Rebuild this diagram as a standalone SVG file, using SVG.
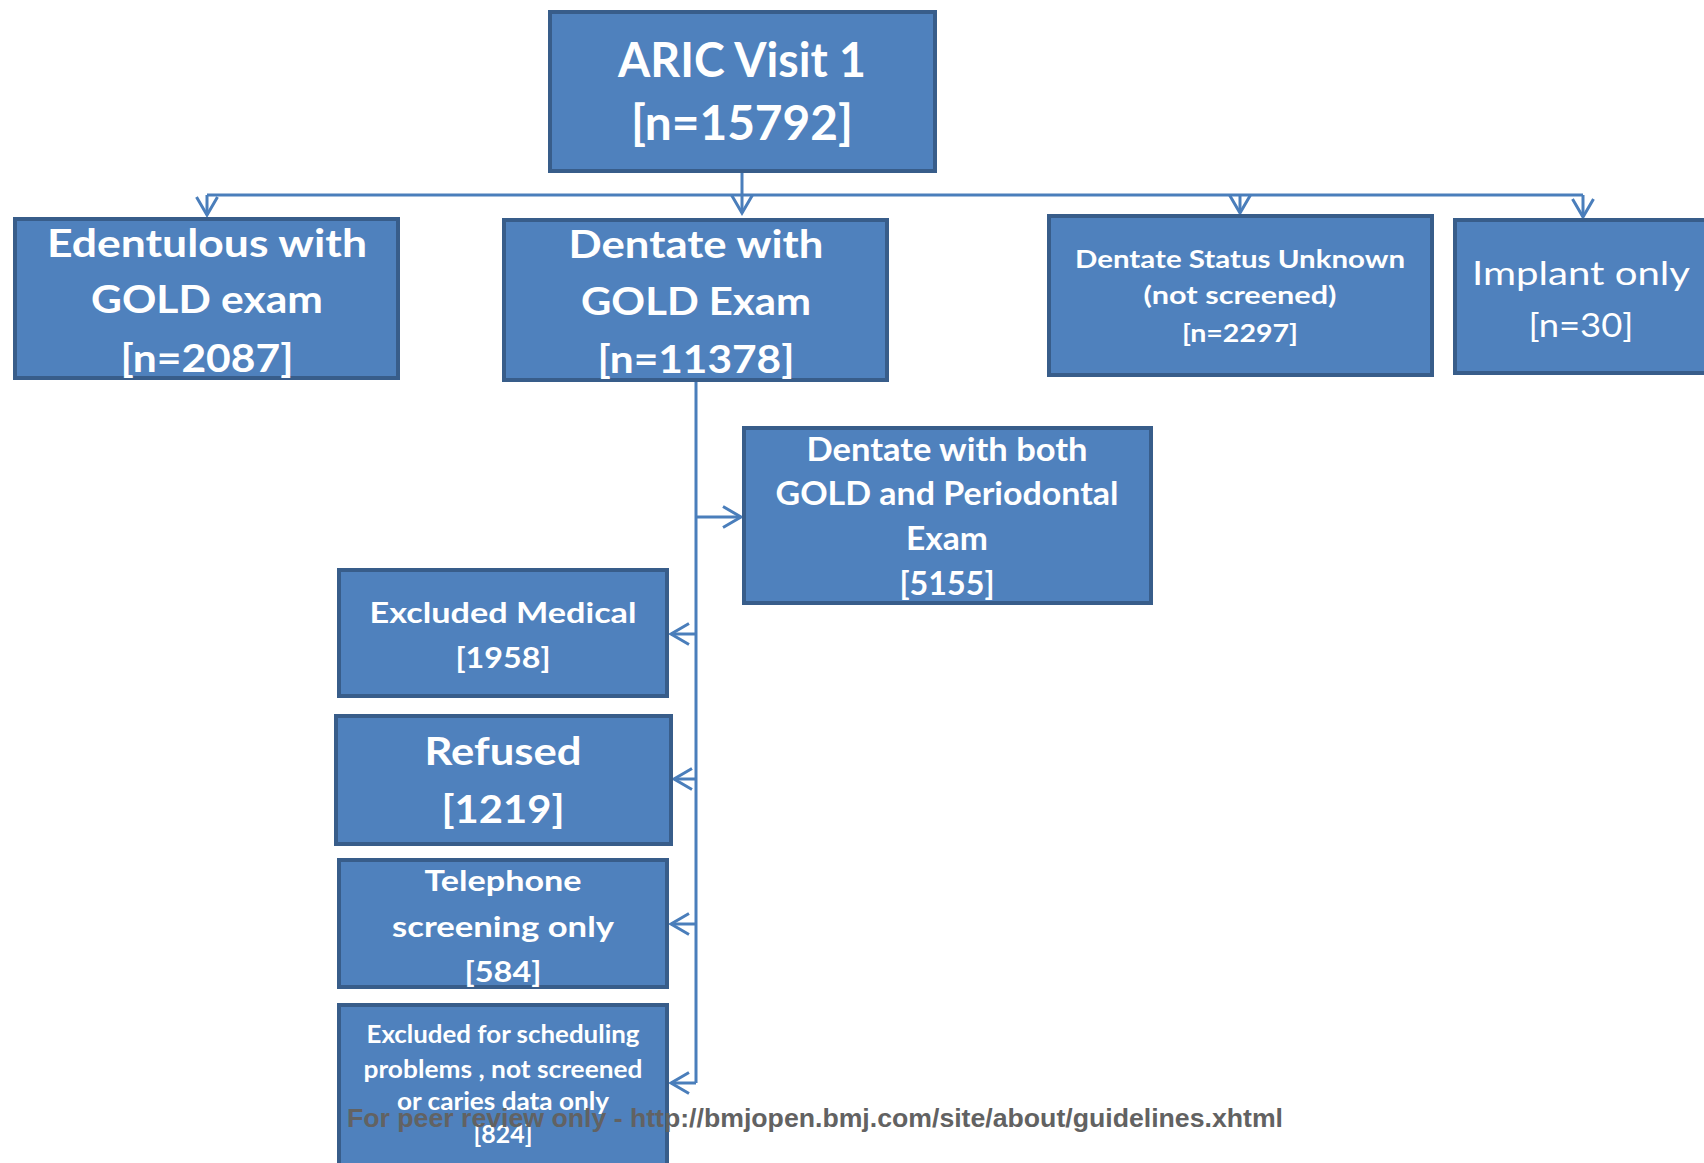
<svg xmlns="http://www.w3.org/2000/svg" width="1704" height="1163" viewBox="0 0 1704 1163">
<style>
.box{fill:#4f81bd;stroke:#385d8a;stroke-width:4}
.t{fill:#ffffff;font-family:Lato,"Open Sans","DejaVu Sans",sans-serif;font-weight:700;text-anchor:middle}
.r{font-weight:400}
.c{fill:none;stroke:#4a7ebb;stroke-width:3}
.wm{fill:#626262;font-family:"Liberation Sans",Arial,sans-serif;font-weight:700;font-size:25px}
</style>
<defs>
<marker id="arr" viewBox="-20 -13 23 26" markerWidth="23" markerHeight="26" refX="0" refY="0" orient="auto" markerUnits="userSpaceOnUse">
<path d="M-18,-10.5 L0,0 L-18,10.5" fill="none" stroke="#4a7ebb" stroke-width="3"/>
</marker>
</defs>
<rect width="1704" height="1163" fill="#ffffff"/>
<g id="connectors">
<path class="c" d="M742,173 V213" marker-end="url(#arr)"/>
<path class="c" d="M207,195 H1583"/>
<path class="c" d="M207,195 V215" marker-end="url(#arr)"/>
<path class="c" d="M1240,195 V213" marker-end="url(#arr)"/>
<path class="c" d="M1583,195 V217" marker-end="url(#arr)"/>
<path class="c" d="M696,382 V1083"/>
<path class="c" d="M696,517 H741" marker-end="url(#arr)"/>
<path class="c" d="M696,634 H671" marker-end="url(#arr)"/>
<path class="c" d="M696,779 H674" marker-end="url(#arr)"/>
<path class="c" d="M696,924 H671" marker-end="url(#arr)"/>
<path class="c" d="M696,1083 H671" marker-end="url(#arr)"/>
</g>
<g id="aric">
<rect class="box" x="550" y="12" width="385" height="159"/>
<text class="t" x="742" y="77" font-size="47" textLength="248" lengthAdjust="spacingAndGlyphs">ARIC Visit 1</text>
<text class="t" x="742" y="140" font-size="47" textLength="222" lengthAdjust="spacingAndGlyphs">[n=15792]</text>
</g>
<g id="edentulous">
<rect class="box" x="15" y="219" width="383" height="159"/>
<text class="t" x="207" y="257" font-size="37.5" textLength="320" lengthAdjust="spacingAndGlyphs">Edentulous with</text>
<text class="t" x="207" y="313" font-size="37.5" textLength="232" lengthAdjust="spacingAndGlyphs">GOLD exam</text>
<text class="t" x="207" y="372" font-size="37.5" textLength="173" lengthAdjust="spacingAndGlyphs">[n=2087]</text>
</g>
<g id="dentate-gold">
<rect class="box" x="504" y="220" width="383" height="160"/>
<text class="t" x="696" y="258" font-size="37.5" textLength="255" lengthAdjust="spacingAndGlyphs">Dentate with</text>
<text class="t" x="696" y="315" font-size="37.5" textLength="230" lengthAdjust="spacingAndGlyphs">GOLD Exam</text>
<text class="t" x="696" y="373" font-size="37.5" textLength="197" lengthAdjust="spacingAndGlyphs">[n=11378]</text>
</g>
<g id="dentate-unknown">
<rect class="box" x="1049" y="216" width="383" height="159"/>
<text class="t" x="1240" y="268" font-size="25" textLength="330" lengthAdjust="spacingAndGlyphs">Dentate Status Unknown</text>
<text class="t" x="1240" y="304" font-size="25" textLength="193" lengthAdjust="spacingAndGlyphs">(not screened)</text>
<text class="t" x="1240" y="342" font-size="25" textLength="116" lengthAdjust="spacingAndGlyphs">[n=2297]</text>
</g>
<g id="implant">
<rect class="box" x="1455" y="220" width="300" height="153"/>
<text class="t r" x="1581" y="285" font-size="32" textLength="218" lengthAdjust="spacingAndGlyphs">Implant only</text>
<text class="t r" x="1581" y="337" font-size="32" textLength="105" lengthAdjust="spacingAndGlyphs">[n=30]</text>
</g>
<g id="dentate-both">
<rect class="box" x="744" y="428" width="407" height="175"/>
<text class="t" x="947" y="461" font-size="32" textLength="281" lengthAdjust="spacingAndGlyphs">Dentate with both</text>
<text class="t" x="947" y="505" font-size="32" textLength="343" lengthAdjust="spacingAndGlyphs">GOLD and Periodontal</text>
<text class="t" x="947" y="550" font-size="32" textLength="82" lengthAdjust="spacingAndGlyphs">Exam</text>
<text class="t" x="947" y="595" font-size="32" textLength="95" lengthAdjust="spacingAndGlyphs">[5155]</text>
</g>
<g id="excluded-medical">
<rect class="box" x="339" y="570" width="328" height="126"/>
<text class="t" x="503" y="623" font-size="29" textLength="267" lengthAdjust="spacingAndGlyphs">Excluded Medical</text>
<text class="t" x="503" y="668" font-size="29" textLength="95" lengthAdjust="spacingAndGlyphs">[1958]</text>
</g>
<g id="refused">
<rect class="box" x="336" y="716" width="335" height="128"/>
<text class="t" x="503" y="765" font-size="39" textLength="157" lengthAdjust="spacingAndGlyphs">Refused</text>
<text class="t" x="503" y="823" font-size="39" textLength="123" lengthAdjust="spacingAndGlyphs">[1219]</text>
</g>
<g id="telephone">
<rect class="box" x="339" y="860" width="328" height="127"/>
<text class="t" x="503" y="891" font-size="29" textLength="157" lengthAdjust="spacingAndGlyphs">Telephone</text>
<text class="t" x="503" y="937" font-size="29" textLength="222" lengthAdjust="spacingAndGlyphs">screening only</text>
<text class="t" x="503" y="982" font-size="29" textLength="77" lengthAdjust="spacingAndGlyphs">[584]</text>
</g>
<g id="excluded-scheduling">
<rect class="box" x="339" y="1005" width="328" height="170"/>
<text class="t" x="503" y="1043" font-size="24" textLength="273" lengthAdjust="spacingAndGlyphs">Excluded for scheduling</text>
<text class="t" x="503" y="1078" font-size="24" textLength="279" lengthAdjust="spacingAndGlyphs">problems , not screened</text>
<text class="t" x="503" y="1110" font-size="24" textLength="212" lengthAdjust="spacingAndGlyphs">or caries data only</text>
<text class="t" x="503" y="1143" font-size="24" textLength="59" lengthAdjust="spacingAndGlyphs">[824]</text>
</g>
<text class="wm" x="347" y="1127" textLength="936" lengthAdjust="spacingAndGlyphs">For peer review only - http://bmjopen.bmj.com/site/about/guidelines.xhtml</text>
</svg>
